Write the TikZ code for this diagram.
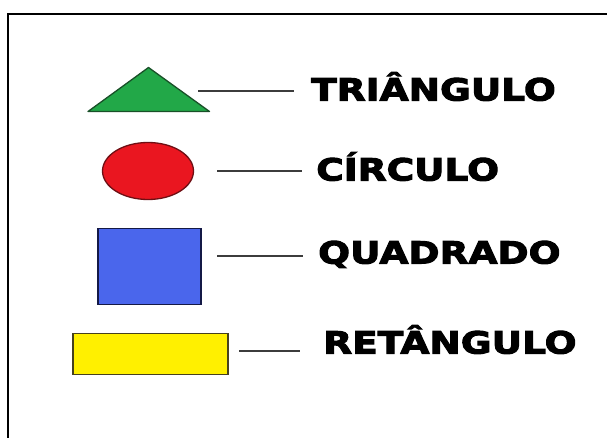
\documentclass[tikz,border=0pt]{standalone}
\usepackage{fontspec}
\newfontfamily\rotulofont[FakeStretch=1.23,FakeBold=3.5]{DejaVu Sans}
\usetikzlibrary{shapes.geometric}
\definecolor{verde}{RGB}{34,168,72}
\definecolor{verdeesc}{RGB}{25,80,40}
\definecolor{vermelho}{RGB}{234,22,32}
\definecolor{vermelhoesc}{RGB}{110,15,20}
\definecolor{azul}{RGB}{74,102,236}
\definecolor{azulesc}{RGB}{20,25,70}
\definecolor{amarelo}{RGB}{255,240,0}
\definecolor{amareloesc}{RGB}{70,65,30}
\definecolor{traco}{RGB}{60,60,60}
\begin{document}
\begin{tikzpicture}[x=1pt,y=-1pt]

      \tikzset{figura/.style={draw, line width=1.3pt, inner sep=0pt},
               rotulo/.style={anchor=base west, inner sep=0pt, font=\rotulofont\bfseries\fontsize{30.5}{30.5}\selectfont},
               ligacao/.style={draw=traco, line width=2.2pt}}
      \useasboundingbox (0,0) rectangle (607,438);

% Moldura
	\draw[line width=1.5pt] (8,438) |- (607,14);

% Figuras
	%Triangulo
		\coordinate (t1) at (88,111.5);
		\coordinate (t2) at (148.5,67.5);
		\coordinate (t3) at (209.5,111.5);
		\path[figura, draw=verdeesc, fill=verde, line join=round] (t1) -- (t2) -- (t3) -- cycle;
	%Circulo
		\node[figura, ellipse, draw=vermelhoesc, fill=vermelho, minimum width=91pt, minimum height=57pt] (circ) at (148,171) {};
	%Quadrado
		\node[figura, rectangle, draw=azulesc, fill=azul, minimum width=103pt, minimum height=76pt] (quad) at (149.5,266.5) {};
	%Retangulo
		\node[figura, rectangle, draw=amareloesc, fill=amarelo, minimum width=155pt, minimum height=41pt] (ret) at (150.5,354) {};

% Rotulos
	\node[rotulo] (triangulo) at (311,100.5) {TRIÂNGULO};
	\node[rotulo] (circulo) at (316,180.5) {CÍRCULO};
	\node[rotulo] (quadrado) at (318,263.5) {QUADRADO};
	\node[rotulo] (retangulo) at (323,353.5) {RETÂNGULO};

% Tracos
	\coordinate (a1) at (198,91);   \coordinate (b1) at (294,91);
	\coordinate (a2) at (217,171);  \coordinate (b2) at (302,171);
	\coordinate (a3) at (217,256);  \coordinate (b3) at (303,256);
	\coordinate (a4) at (239,351);  \coordinate (b4) at (300,351);
		\path[ligacao] (a1) -- (b1);
		\path[ligacao] (a2) -- (b2);
		\path[ligacao] (a3) -- (b3);
		\path[ligacao] (a4) -- (b4);

\end{tikzpicture}
\end{document}
